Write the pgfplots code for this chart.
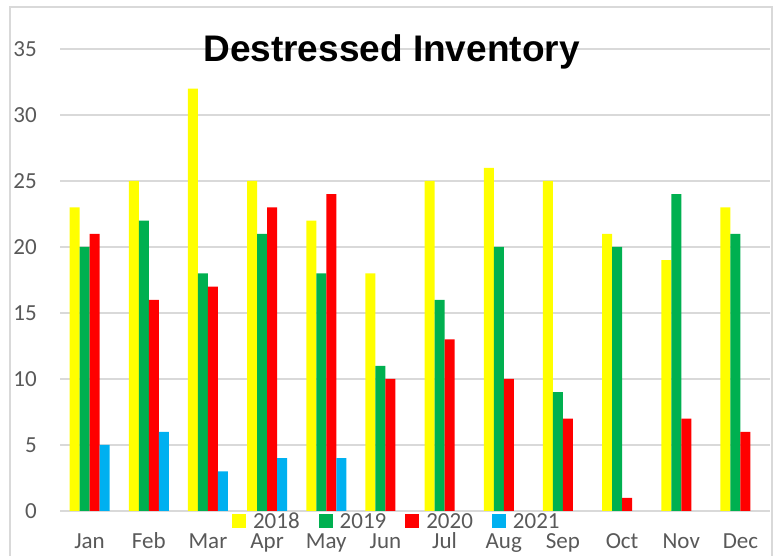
\documentclass[border=0pt]{standalone}
\usepackage{pgfplots}
\pgfplotsset{compat=1.18}
\usepackage{fontspec}
\setmainfont{Carlito}
\newfontfamily\titlefont{Liberation Sans}
\definecolor{gridgray}{HTML}{D9D9D9}
\definecolor{labelgray}{HTML}{595959}
\definecolor{cyellow}{HTML}{FFFF00}
\definecolor{cgreen}{HTML}{00B050}
\definecolor{cred}{HTML}{FF0000}
\definecolor{cblue}{HTML}{00B0F0}
\begin{document}
\begin{tikzpicture}
\useasboundingbox (0,0) rectangle (778pt,556pt);
\draw[gridgray, line width=1.5pt] (10pt,-10pt) -- (10pt,549pt) -- (772pt,549pt) -- (772pt,-10pt);
\begin{axis}[
  at={(60pt,45pt)}, anchor=south west,
  width=710pt, height=462pt, scale only axis,
  ymin=0, ymax=35, xmin=-0.5, xmax=11.5,
  ytick={0,5,...,35},
  xtick={0,...,11},
  xticklabels={Jan,Feb,Mar,Apr,May,Jun,Jul,Aug,Sep,Oct,Nov,Dec},
  axis line style={draw=none},
  major tick length=0pt,
  ymajorgrids,
  grid style={gridgray, line width=1.4pt},
  /pgf/number format/assume math mode=true,
  ticklabel style={font=\fontsize{23}{27}\selectfont, text=labelgray, inner sep=0pt},
  yticklabel style={anchor=east, xshift=-23pt},
  xticklabel style={anchor=base, yshift=-38pt},
  ybar=0pt, bar width=10pt,
  clip=false,
  legend columns=4,
  legend style={at={(0.473,-0.0227)}, anchor=center, draw=none, fill=none,
    font=\fontsize{23}{27}\selectfont, text=labelgray, inner sep=0pt,
    nodes={inner sep=0pt},
    /tikz/every odd column/.append style={column sep=7pt},
    /tikz/every even column/.append style={column sep=19pt}},
  legend image code/.code={\fill[#1] (0pt,-7pt) rectangle (14pt,7pt);},
]
\addplot[fill=cyellow, draw=none] coordinates {(0,23) (1,25) (2,32) (3,25) (4,22) (5,18) (6,25) (7,26) (8,25) (9,21) (10,19) (11,23)};
\addplot[fill=cgreen, draw=none] coordinates {(0,20) (1,22) (2,18) (3,21) (4,18) (5,11) (6,16) (7,20) (8,9) (9,20) (10,24) (11,21)};
\addplot[fill=cred, draw=none] coordinates {(0,21) (1,16) (2,17) (3,23) (4,24) (5,10) (6,13) (7,10) (8,7) (9,1) (10,7) (11,6)};
\addplot[fill=cblue, draw=none] coordinates {(0,5) (1,6) (2,3) (3,4) (4,4)};
\legend{2018,2019,2020,2021}
\end{axis}
\node[anchor=base, inner sep=0pt, font=\titlefont\bfseries\fontsize{37}{44}\selectfont] at (391.5pt,494pt) {Destressed Inventory};
\end{tikzpicture}
\end{document}
